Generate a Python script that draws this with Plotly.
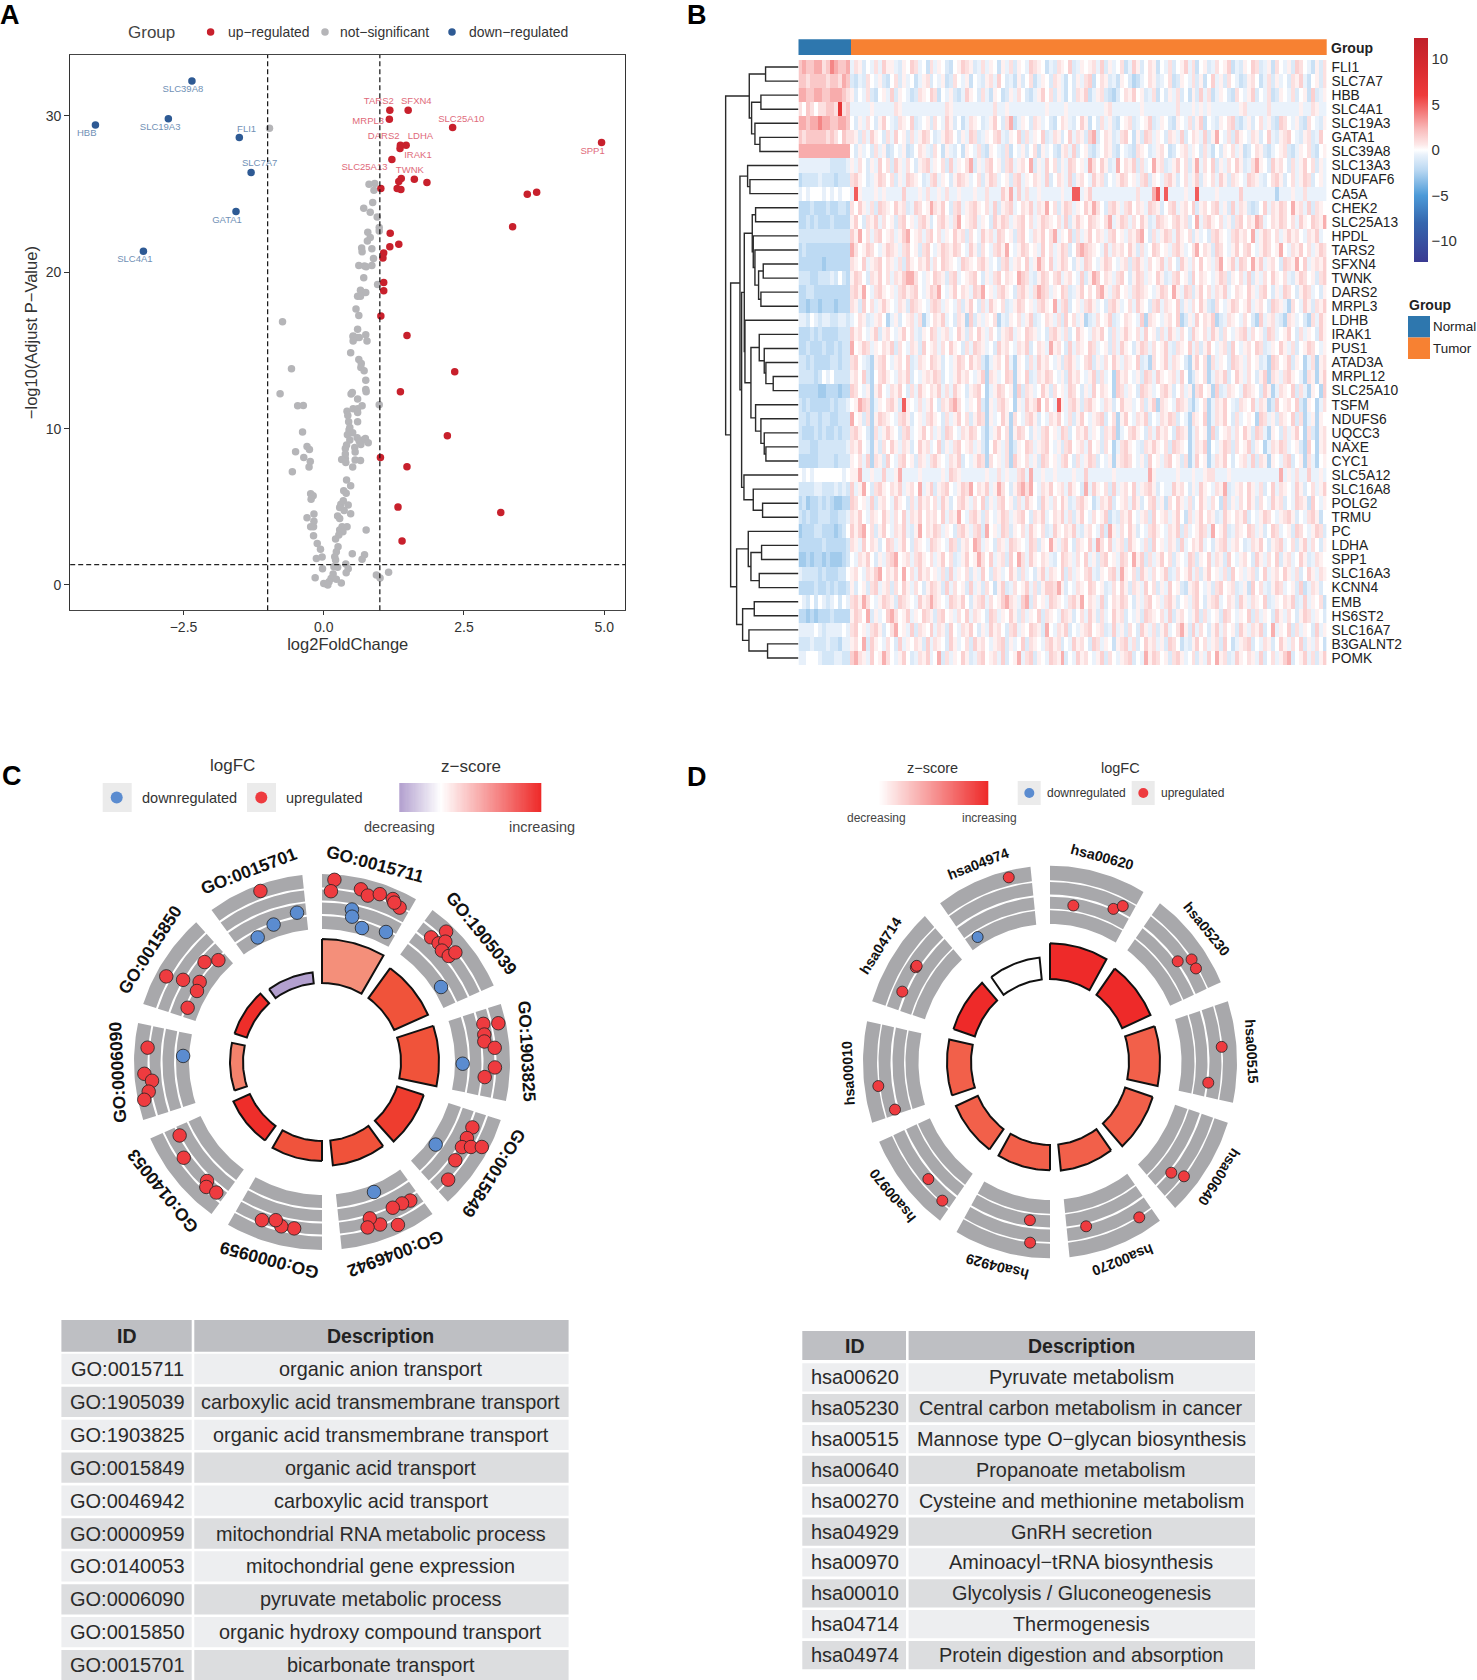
import numpy as np
import plotly.graph_objects as go

W, H = 1477, 1680
FONT = "Liberation Sans"

# ---------- Panel A values ----------
up_x = [1.178,1.505,1.17,2.298,4.953,1.367,1.469,1.36,1.215,1.382,1.338,1.615,1.84,1.018,1.309,1.375,3.796,3.629,3.367,1.185,1.338,1.178,1.069,1.055,1.069,1.069,1.018,1.484,2.335,1.367,2.204,1.011,1.484,1.324,3.156,1.396]
up_y = [30.37,30.37,29.79,29.26,28.3,28.13,28.13,27.92,27.21,26.0,25.81,25.96,25.74,25.36,25.36,25.29,25.12,25.0,22.91,22.5,21.8,21.63,21.24,20.92,19.35,18.82,17.2,15.96,13.64,12.36,9.54,8.16,7.56,4.98,4.64,2.81]
down_x = [-2.35,-4.07,-2.77,-1.505,-1.295,-1.564,-3.215]
down_y = [32.24,29.43,29.83,28.62,26.38,23.89,21.35]
ns_x = [-.967,-.735,.909,.807,.895,.873,.713,.829,.953,.989,.989,.785,.829,.778,.676,.684,.858,.887,.625,.727,.756,.858,.713,.96,.655,.749,.604,.655,.575,.625,.604,.524,.596,.749,
        .524,.633,.524,.771,.48,.625,.669,.662,.72,.749,-.575,-.778,.487,.509,.749,.756,.604,.684,-.465,-.364,.989,.415,.429,.524,.604,.604,.444,.604,.465,-.378,.451,.516,.422,.465,.596,.742,.633,.705,.662,.793,.407,.385,.553,-.298,-.255,-.502,.56,.385,-.356,-.24,.385,.32,.56,.655,.393,.516,-.262,-.56,.407,.48,.356,.4,-.233,-.189,-.225,.349,.436,.305,.284,.364,.48,-.175,.247,.284,-.298,-.175,-.233,-.182,.327,.415,.284,.342,.756,.269,.211,-.182,-.116,-.058,.255,.225,.509,.727,.684,-.131,-.029,.196,.211,.393,.182,-.022,.247,.436,.4,.167,1.156,.938,1.004,-.153,.131,.225,.095,.313,0,.051,.073]
ns_y = [29.22,16.83,25.68,25.64,25.25,24.46,24.1,23.84,23.53,22.86,22.65,22.57,22.23,22.01,21.56,21.31,21.5,20.88,20.43,20.41,20.35,20.43,19.65,19.22,18.86,18.71,18.47,18.47,17.66,17.24,16.36,15.92,15.83,16.0,
        15.87,15.83,15.6,15.6,14.85,14.42,14.17,13.91,13.7,13.1,13.83,12.23,12.21,12.31,12.51,12.36,11.89,11.46,11.46,11.48,11.53,11.12,10.84,11.27,11.27,11.04,10.44,10.44,10.08,9.78,9.91,9.74,9.61,9.27,9.42,9.37,9.2,9.27,8.99,9.1,8.95,8.73,8.8,8.86,8.67,8.52,8.5,8.37,8.16,7.9,8.09,8.03,7.99,7.97,7.84,7.54,7.54,7.24,6.71,6.35,6.03,5.86,5.84,5.71,5.49,5.39,5.11,5.17,4.96,4.77,4.56,4.54,4.41,4.26,4.3,4.07,3.73,3.73,3.73,3.73,3.51,3.41,3.51,3.19,2.94,3.15,2.66,2.28,2.45,2.13,2.0,1.94,1.64,1.7,1.79,1.81,1.59,1.34,1.17,1.04,1.13,1.04,.78,.7,.81,.63,.44,.46,.42,.36,.21,.12,.1,.06,0]
lab_down = ["SLC39A8","HBB","SLC19A3","FLI1","SLC7A7","GATA1","SLC4A1"]
lab_down_x = [-2.51,-4.225,-2.916,-1.375,-1.142,-1.724,-3.367]
lab_down_y = [31.69,28.87,29.26,29.15,26.94,23.33,20.78]
lab_up = ["TARS2","SFXN4","MRPL3","SLC25A10","DARS2","LDHA","IRAK1","SPP1","SLC25A13","TWNK"]
lab_up_x = [.982,1.651,.793,2.451,1.069,1.724,1.68,4.793,.727,1.535]
lab_up_y = [30.9,30.9,29.62,29.79,28.66,28.66,27.49,27.75,26.68,26.53]

# ---------- Panel B values ----------
genes = ["FLI1","SLC7A7","HBB","SLC4A1","SLC19A3","GATA1","SLC39A8","SLC13A3","NDUFAF6","CA5A","CHEK2","SLC25A13","HPDL","TARS2","SFXN4","TWNK","DARS2","MRPL3","LDHB","IRAK1","PUS1","ATAD3A","MRPL12","SLC25A10","TSFM","NDUFS6","UQCC3","NAXE","CYC1","SLC5A12","SLC16A8","POLG2","TRMU","PC","LDHA","SPP1","SLC16A3","KCNN4","EMB","HS6ST2","SLC16A7","B3GALNT2","POMK"]
normal_levels = dict(b=-2.8,c=-2.1,d=-1.3,e=-.6,f=0,g=.9,h=1.8,i=2.7,j=3.8,k=7)
tumor_levels = dict(b=-2.3,c=-1.6,d=-1,e=-.5,f=0,g=.4,h=.9,i=1.5,j=2.6,k=5)
normal_rows = ["hihhiighjihhi","hhghhhhghhgih","iihhiihhiiihg","gfhgfgghhgkgh","iihiijiihhiih","hghhhhhghgfhg","iiiiiiiiiiiii","eeeeeeeedddde","cddddedddcddd","efefffefefeff","cccdcccdccddc","ccdcdcccdcccc","ddddddddddddd","cdccccccccccc","ccccccbcccccc","dddccdddedfdc","ccddccccccccc","ccbccbcccbccc","eedfedeeddeed","cccdcdccccddd","ccdcccdccdcdd","ddcdccccddcdd","ddddcdfefdddd","cccccbbcccbcc","dcdcccccdcdde","ddcddcddccddd","dcccdcdccdcdd","dddccddddddde","cccccddddcddd","fefefffffffef","ddddeedddeded","cdbccdcdcbbcc","dcdccdddccdde","bcccddcccbcdf","ccccccdcccccd","bbcbccbcbbbcd","eddddcdcccddf","ccccdccdcdccd","fedfdfedefdfe","ccbcbcccdcccc","eeeefedeeeefe","dddedddeddcee","eefffedddeedd"]
tumor_rows = [
"ehgdfeheig gedgfihefc hegfdcfgih gdehegfcge hdgfeihgfc edhgfidegf gheidgefhc eigdfhgcfe hdfgiehcfg dehfgicedg fihdegchfe gdihfecgdh",
"dcedhfegdc fhdgefcegh dfegcdhfeg cfedgheifd ecgdfhcegf dhgecfdgeh icfhgdecgf dbcefhgdef hcdgfehdgc fiegdhfecd ghfcehdgef dhgiecfgdh",
"gdfehdcfge idgfecdhgf ihcfegdcei gfdhecgfcd gehfdcegif hdgecfdhgi ceghdcbdfh gifgdehcfd gehdfcgdie hcegfdchfe gidfehcdgf ehdfgcideg",
"eeeeegeeee ehgeeeeeee eeeehgeeee eeeeeeheeg eeeeeeeeeg eeeegeeeee eeeegheeee eeegeeeeee eeheeegege geeeeeeegh eeeeeheeee eeegeehgee",
"fdgehfdgif edhgfidefg dhfeigdfce hgfdegifdh jcegfdhgef dcfhgedfig cfdhegdcfg hdefgidegf dcgfehdgic fedgfhidce gdfhegdcih fegdchfedg",
"hgdheigfdh eifgdhegih fdegihfdge ihdegfhied gfidhegfid ehgdfiehgd ijdfhgdehi fcgdihegfd hgeidfhgei dgjfehdigf ehgdfiedgh ifedghdeif",
"fdgefdhegc dfegcdfhge dhfcgedfcg fehdcgfedh cfegdfhcge fdcgheidfg dcefhgdcfe dchgfdeghf cdfghegfdh ecfdgfhegc dfhgdcefgh dcegfhdcfg",
"gehfdgeifh digehfdghi egfhdiegfh jdgehifgdh ieghfjdgei fhdgeihfge jhfigdejfh gidhefjghd egifhdgjeh fidgehfigd ehjgfdighf dhegifhdge",
"higfdegihf hdgeihgfde hiegfdgihg efhdgihefg dhiegfhgei dfhgeidghf eighdfegih fgehidgfeh igdfhegidg fheigdhgfe ihgedfhigd fhegihdfge",
"ekgeeegege eeeieeegeh eegeheegee egeeheeeig jeieheegee eeegeekkeg ieeeeeeeee eeheeejkek eeeegeekee eegeeeeeie eeeeeeebee egeeheeeee",
"hfigehdihg fighdeihfg jhgifdhieg higfheidgh iefhgiehgj fhdgihegfi gjhfdhigeh ifhgeihgdf hieghfidgh fhiegdiehg dcdfiehgih fjgheidhgf",
"gifdhgiehf gdhifgehig dfhigehjfg hiegfdigih eghifhegih gfheidgigf ihgfhjegih ehfigdeihg fhighdfjeh igfhegdhif hgjiefhgih fheigfihgj",
"igjfhehifg hegijfgheh ifhegfighd hfeigheihf gdhifehgif hjegfidheg ifhgehifge hgijfdhegi heigfhdgef dhigfehigh fjegihfheg ighfehgief",
"jhfgihfegi hgehifgdhi fegihgihfe igdhfehigj fegihfgeif hegihdfiji hgfeiehghf igdhefihfg ehigefhjfh gdihfegifh ifegihfgjf ehgifhegih",
"hgfieghifh gehdigfhgi ehfihgfeih gfhigefdhi eghfiegjhf iegihfdgei hfegihfegh dhigehfgie hfdigehfif gehjfgieih fjgieghfdi hgjfieghgi",
"gihfdhgifh ehgijjhfeg fihgdhiefg hifdgehifh gfjihedgih fhieghfeid gjifhgehif dgihegfigd ehifgdifhg fegihdgfhe idgehfigfh edgihfgdhi",
"higjfehigf gehighifeg ihjfegifhg eihjfgehig fdhigehjih egfihdegif hfijgehifg ehihgfegih fjgeihdgif hehgiefhgf igehifdgei hfdgihefdg",
"hgdifhegig fehgdihgfe hihegfehdg ifdheigfhd egihfgehig fjehidfgeh igefdhigef heigfdhieh gfidgehfig dchfegihfg ieghfdihge bhfeigdhgi",
"efhgdeghfb egdfghehbe fhgiefdhgb idgegfhbed gfhegidefh gehdifhegb dehfgidefh gfeibhgfeg hfibdgeifh gibdehgfeh fdbieghedb hgefdbheig",
"ighfegidgh fegifhedgf iheghefigd hfigehfdgh iegfihgefd higehdfigf ehgifdhegi gfheifgdhe igehfdigfh eigdhfeghi ehfgdihefg ifdhegfdig",
"jfgihegfhg idhfehgdif ghehfigfdh eihgefdigh fehgidfhge jghfdiehgf ihefgdheig fdgihehfgi edhgfiehdg ifeghdifeg hfihdegfig ehdfgihfeg",
"hifedbghif eghfidehgf ihgdfegihf ighdbeghfi ebgfdheigh fegdhigefh idgehfigeh gfidebhfgi ehgfdbgifh bhegfdihge hfgdebihfg idgfbehbgh",
"ghfidbfhig fehgidfegh gihdfegigh fegibhgefi hbgfidehgi hfegdighfe gidhefbigh fegdiheigf gheifbdgfh behgidfige hfdgibhgeh igfebhgbgi",
"ihfegbgife hgifdheigf hgieheigfd ghifbegihf gbidhgefig dhfgeihfdg eifhgfbihe gfdihgefhi gdfhegbhif gbidehgfei hgfdigbehg fidhebgfbi",
"fgjihbegfh igdkgfeheg ifdhgijhfe gfidbgehig fbgeighjfi fekgehigdh igfehgdfig gefhdgibhg feihgdbefh behgifedhg fiehgbdifg hfidbgfbeh",
"jfgdhbgihg fehigdfgeh igfdhegifh dgihbgefig bhfehigdfe hgifehdgif eghidfhbgi fehgidfehg ihdfebhgfi behgifdhef gfbihegdhg fidhbegbgf",
"higfdbhegi gfdhiefgif hegdihfehg ihfdbegifh bgihfdgehi fgeihdfhgi egfdhgibef higfdheigh fdihgbehfg bidfghehfi gdihebgfdh egifbhdbgh",
"hgifebgdhf igehgdfigh efidgehifg hegdbfigeh bdgfiheghi fegdhifghe ifgdhfbehi gfedhgigfh dihgfbehgi bfegihdhfg idgfbehgih efgdbifbgh",
"gfheibhgdi fehifgdhge higfehgidf egihbhfgeh bigfhegdih fgehifdheg ihdfegbghi hfegdifgeh ifgdhbeifg behgifdfgh eidhgbgfeh idfgbhebfg",
"ggjeegeeie egjeeeegee eeegeihgee eeeegeeheg eehiejeege egeeeegeei eeeeeegeee eeeeejgeee eegeeegeeg hheeegeeee eeeeeeeeje geheeieege",
"iegjfdhigf hgieghfjeg idghifegih jfhgiegjhf dgijhjfehg ifgheigfdj eigfhdiegh fieghigdfe eighfdgeig fehgjdeghf igehdfiehg feigdfhegi",
"ihfgeidghf eigfdheigh fheigdfhig ehfidgehif gdheigfdig ehfigdehig fcehgidfgh eigdfhiegc hfigehdfig ehfcidgehf igdhfeighd feihgcifeg",
"hgifehgfig ehfiehgifh ghfiehgjfe higdhfegih eghifdhgie fhgiehdgif ehfgicedhg ifeghdifgh egifchegif hgdeigfhgi dfegihfegh igdfehigcf",
"igijfhdgif ehgiedgjfh gihegfdhig ehidjfgeih dgfheigfhd eigfhgiedg hfeidjgehf igdfehigfe hgidhefgih ejfgidehgf ihegdfihef gdihfegihd",
"hgeifhgdfi hegifdhgfe ihgfeihdgh fjiegfdhge ihgfeihdgf jgehifdhgf iejhfieghd igfehdifge hgdiefhgie fdghieghfd ehgifdghie fhdgiehfdg",
"fehgifdgeh ijfghehigf hegifhdegi fgjhfieghd ifjheigfhg edfihgehfi egdhifgeih fjgidhegif hdgfeihdgf iehgdifegh fdigehfidg hefigdehgf",
"ghfehgijfh gifjfheigh fgehdiegfh dgeifdhgef igdhefdgie hgfidhegfh iedgfhiejg fhdigehfgi dehfgiehdg ifgehdifge ghdfieghfi gehdfigehg",
"gdfgdhiegh dhfigehfdg ihgdiehfgd iegdhfcgid ehfgiehdgi ihjgdfehgf ihfgdehfig dhgeifhdge ifgdcghife gdhifghdeg cifhedgihe fgdicehgdf",
"higjhfegih gdihgfeigh jhgfeihgif dghiehfgij hgeijdhfge ihgfehigjf hgeidfhgih fdgehifgeh igdfgehifd ghiefhgdig ehgfidegfh gideiegfhc",
"gihfjdgefi jhfgiegfih gdhifgehfi ehgfdihegf igdhegfidh gfeihgdfhe igdhefighd fegdihgfhe idghfegidh efgdihfegf idhegfdige hfdgihegfd",
"hifgehigdf hjfgeidhgf iehgdifehg ifdgeighfd hiegfihgdj fehgidfegh ifghdeiegd hfdigehdgi efhjgdiehf dgiehfgdig ehgidfjegf idhegfdieg",
"ghfjdigfeh fdiegfhgdi ehgfdigefh dighfeghid gefidhgfeh ighdfeighf dihegfcghi ehdfighegd ihfcedgifh eghdifcegh idfehgdfig ehfidgehfc",
"ijhgeifgjh fegifdehgi efjdhegfig dehifgheid fgjehidgfe ihgjdfeigh fegidhfegh idfejgihfg dhigefhdge ifjghdeigf hgeidfhegi jdfgiehdgi",
]
# dendrogram: (height, left, right); leaves are row numbers
dendro = (17,
    (88, (137,0,1), (95, (123,2,3), (105,4,(120,5,6)))),
    (32,
        (60,
            (83,7,(90,8,9)),
            (65,
                (73,
                    (97,(107,10,11),(100,12,(105,13,(116,(130,14,15),(123,16,17))))),
                    (75,18,(93,(118,19,(133,20,(138,21,(160,22,23)))),(107,24,(123,25,(133,26,(138,27,28))))))),
                (72,29,(100,30,(128,31,32))))),
        (50,
            (85,33,(93,(125,34,35),(118,36,37))),
            (68,(103,38,39),(87,40,(143,41,42))))))
cb_ticks = [-10,-5,0,5,10]

# ---------- Panel C values ----------
c_ids = ["GO:0015711","GO:1905039","GO:1903825","GO:0015849","GO:0046942","GO:0000959","GO:0140053","GO:0006090","GO:0015850","GO:0015701"]
c_desc = ["organic anion transport","carboxylic acid transmembrane transport","organic acid transmembrane transport","organic acid transport","carboxylic acid transport","mitochondrial RNA metabolic process","mitochondrial gene expression","pyruvate metabolic process","organic hydroxy compound transport","bicarbonate transport"]
c_bar = [123,116,117,107,104,99,97,92,92,90]
c_bar_col = ["#F48F7A","#F0533A","#F0533A","#EE3D2F","#F0523A","#F0533C","#EE2E2A","#F4826C","#EE2E2A","#B3A0CF"]
c_up_t = [3.9,3,12.7,15.4,19,23.5,26.7,24.4,43.6,41.2,44.5,45.7,47.1,50.1,50.6,76.7,77.6,80.4,82.8,85.3,91.8,95.3,113.5,117.7,121.3,119.7,118,126.4,133,147.5,150.5,154.1,160.3,163,164.6,155,189.5,193.9,196.3,200.8,242.7,235.3,224,222.8,219,274.7,266.2,263.7,260.3,258,298.8,300.6,310.4,314.5,303.2,299.6,292,340.2]
c_up_r = [182.6,171,177,172.6,177.5,177.7,172.8,175,180,165.6,166.4,172.3,163.7,165.2,172.6,165.8,180.5,164.6,163.6,173.3,173,163.4,164,163.7,163.8,171.5,181,165.6,172.5,164.3,162.5,162,172.6,163.5,171.6,179.7,168.7,169.3,164.8,169.2,160.2,168.2,165.4,170.3,168,175,178,171,175.8,181.7,177.7,161.4,154.2,145.3,146.2,143.8,144.9,181.8]
c_dn_t = [11.1,11.7,16.6,26.2,57.8,90.7,126,158.2,272.5,350.5,340.6,332.7]
c_dn_r = [155.4,148.4,139.8,144.9,140.7,140.7,140.5,140,139,151.4,145.7,140.2]

# ---------- Panel D values ----------
d_ids = ["hsa00620","hsa05230","hsa00515","hsa00640","hsa00270","hsa04929","hsa00970","hsa00010","hsa04714","hsa04974"]
d_desc = ["Pyruvate metabolism","Central carbon metabolism in cancer","Mannose type O\u2212glycan biosynthesis","Propanoate metabolism","Cysteine and methionine metabolism","GnRH secretion","Aminoacyl\u2212tRNA biosynthesis","Glycolysis / Gluconeogenesis","Thermogenesis","Protein digestion and absorption"]
d_bar = [113,110,110,108,104,103,103,103,101.5,100]
d_bar_col = ["#EE2A29","#EE2A29","#F2604A","#F2604A","#F2604A","#F2604A","#F2604A","#F2604A","#EE2A29","#FFFFFF"]
d_up_t = [8.9,23.5,26.1,53.1,55.4,58.6,85.2,97.1,131,129.1,148.9,167,187.6,186.6,227.5,219.2,262.4,253.7,303.9,304.5,294.4,346.8]
d_up_r = [150.8,159,165.4,159.7,172,171,172.3,159.5,160.7,172.6,172.8,160.6,152,173.2,165,170.4,173.2,161.5,161.7,161.7,162.2,180.6]
d_dn_t = [328.7]
d_dn_r = [139.3]

UP, DN = "#EE3B3F", "#5B8CD0"
TXT = "#333333"

fig = go.Figure()

def dx(a, b): return [a / W, b / W]
def dy(top, bot): return [1 - bot / H, 1 - top / H]
HID = dict(visible=False, fixedrange=True)

layout = dict(
    width=W, height=H, margin=dict(l=0, r=0, t=0, b=0), autosize=False,
    paper_bgcolor="white", plot_bgcolor="rgba(0,0,0,0)", showlegend=False,
    font=dict(family=FONT, color=TXT),
)
# overlay page axes (decoration coordinates)
layout["xaxis6"] = dict(domain=[0, 1], range=[0, W], anchor="y6", **HID)
layout["yaxis6"] = dict(domain=[0, 1], range=[H, 0], anchor="x6", **HID)

anns, shapes = [], []
def txt(x, y, s, size, color=TXT, bold=False, anchor="center", angle=0, xref="x6", yref="y6"):
    anns.append(dict(x=x, y=y, xref=xref, yref=yref, text=f"<b>{s}</b>" if bold else s, showarrow=False,
                     xanchor=anchor, yanchor="middle", textangle=angle,
                     font=dict(size=size, color=color, family=FONT)))
def rect(x0, y0, x1, y1, color):
    shapes.append(dict(type="rect", xref="x6", yref="y6", x0=x0, y0=y0, x1=x1, y1=y1,
                       fillcolor=color, line=dict(width=0), layer="below"))

for letter, x, y in [("A", 10, 15), ("B", 697, 15), ("C", 12, 776), ("D", 697, 777)]:
    txt(x, y, letter, 27, "#000000", True)

# ---------- A ----------
layout["xaxis"] = dict(domain=dx(70.2, 625.3), range=[-4.52, 5.376], anchor="y", tickvals=[-2.5, 0, 2.5, 5], tickformat=".1f",
                       showgrid=False, zeroline=False, showline=True, mirror=True, linecolor="#444444", linewidth=1.3,
                       ticks="outside", ticklen=4, tickcolor="#333333", tickfont=dict(size=14, color=TXT, family=FONT),
                       title=dict(text="log2FoldChange", font=dict(size=16.5, color=TXT, family=FONT), standoff=3), fixedrange=True)
layout["yaxis"] = dict(domain=dy(55, 610.3), range=[-1.62, 33.9], anchor="x", tickvals=[0, 10, 20, 30],
                       showgrid=False, zeroline=False, showline=True, mirror=True, linecolor="#333333", linewidth=1.3,
                       ticks="outside", ticklen=5, tickcolor="#333333", tickfont=dict(size=14, color=TXT, family=FONT),
                       title=dict(text="\u2212log10(Adjust P\u2212Value)", font=dict(size=16.5, color=TXT, family=FONT), standoff=3), fixedrange=True)
fc_cut, p_cut = 1, 1.3
for v in (-fc_cut, fc_cut):
    shapes.append(dict(type="line", xref="x", yref="y domain", x0=v, x1=v, y0=0, y1=1, line=dict(color="#111111", width=1.2, dash="5px,3px")))
shapes.append(dict(type="line", xref="x domain", yref="y", x0=0, x1=1, y0=p_cut, y1=p_cut, line=dict(color="#222222", width=1.2, dash="5px,3px")))
RED, BLUE, GREY = "#C8202C", "#2E5A94", "#B5B5B8"
for xs, ys, c in [(ns_x, ns_y, GREY), (up_x, up_y, RED), (down_x, down_y, BLUE)]:
    fig.add_trace(go.Scatter(x=xs, y=ys, mode="markers", marker=dict(size=7.5, color=c, line=dict(width=0)), hoverinfo="skip"))
fig.add_trace(go.Scatter(x=lab_down_x, y=lab_down_y, text=lab_down, mode="text", textfont=dict(size=9.5, color="#7090B5", family=FONT), hoverinfo="skip"))
fig.add_trace(go.Scatter(x=lab_up_x, y=lab_up_y, text=lab_up, mode="text", textfont=dict(size=9.5, color="#E06A7A", family=FONT), hoverinfo="skip"))
txt(151, 32, "Group", 17, "#444444")
fig.add_trace(go.Scatter(x=[210.6, 325, 452], y=[32, 32, 32], xaxis="x6", yaxis="y6", mode="markers",
                         marker=dict(size=7.5, color=[RED, GREY, BLUE]), hoverinfo="skip"))
txt(226, 32, "up\u2212regulated", 13.9, anchor="left")
txt(338, 32, "not\u2212significant", 13.9, anchor="left")
txt(467, 32, "down\u2212regulated", 13.9, anchor="left")

# ---------- B ----------
N_N, N_T = len(normal_rows[0]), 120
z = []
for n, t in zip(normal_rows, tumor_rows):
    t = (t.replace(" ", "") + "f" * N_T)[:N_T]
    z.append([normal_levels[ch] for ch in n] + [tumor_levels[ch] for ch in t])
n_cols = len(z[0])
zlim = 12.3
stops = [(-12.3, "#3A3A92"), (-8, "#3566AE"), (-5, "#4C9AD8"), (-2.2, "#BAD8F2"), (-.5, "#EAF2FB"), (0, "#FFFFFF"),
         (.6, "#FDE8E8"), (2.2, "#F9BDBD"), (6, "#EE3B3B"), (9, "#D92B30"), (12.3, "#C0202A")]
cs = [[(v + zlim) / (2 * zlim), c] for v, c in stops]
fig.add_trace(go.Heatmap(z=z, x=list(range(n_cols)), y=list(range(len(genes))), xaxis="x3", yaxis="y3", zmin=-zlim, zmax=zlim,
                         colorscale=cs, hoverinfo="skip", xgap=0, ygap=0,
                         colorbar=dict(x=1413.6 / W, xanchor="left", y=1 - 38 / H, yanchor="top", lenmode="pixels", len=223.7,
                                       thicknessmode="pixels", thickness=13.5, xpad=0, ypad=0, outlinewidth=0, ticks="",
                                       tickvals=cb_ticks, tickfont=dict(size=15, color=TXT, family=FONT))))
layout["xaxis3"] = dict(domain=dx(798.5, 1326.7), range=[-.5, n_cols - .5], anchor="y3", **HID)
layout["yaxis3"] = dict(domain=dy(60, 665), range=[len(genes) - .5, -.5], anchor="x3", side="right", tickvals=list(range(len(genes))), ticktext=genes,
                        showgrid=False, zeroline=False, showline=False, ticks="outside", ticklen=1, tickcolor="rgba(0,0,0,0)",
                        tickfont=dict(size=13.8, color="#222222", family=FONT), fixedrange=True)
rect(798.5, 39.3, 851, 55, "#2E77AE")
rect(851, 39.3, 1326.7, 55, "#F78132")
txt(1329, 47.5, "Group", 14, "#222222", True, "left")
txt(1407, 305, "Group", 14, "#222222", True, "left")
rect(1408, 316, 1430, 337.5, "#2E77AE")
rect(1408, 337.5, 1430, 359, "#F78132")
txt(1431, 326.5, "Normal", 13.4, "#222222", anchor="left")
txt(1431, 348, "Tumor", 13.4, "#222222", anchor="left")

dx_seg, dy_seg = [], []
def walk(node):
    if isinstance(node, int):
        return 236.0, node + .5
    h, a, b = node
    xa, ya = walk(a)
    xb, yb = walk(b)
    dx_seg.extend([xa, h, h, xb, None])
    dy_seg.extend([ya, ya, yb, yb, None])
    return h, (ya + yb) / 2
rx, ry = walk(dendro)
fig.add_trace(go.Scatter(x=dx_seg, y=dy_seg, xaxis="x2", yaxis="y2", mode="lines", line=dict(color="#2A2A2A", width=1.4), hoverinfo="skip"))
layout["xaxis2"] = dict(domain=dx(720, 798.5), range=[0, 236], anchor="y2", **HID)
layout["yaxis2"] = dict(domain=dy(60, 665), range=[len(genes), 0], anchor="x2", **HID)

# ---------- C / D circles ----------
def sector(t0, t1, r0, r1):
    t = np.radians(np.linspace(t0, t1, 28))
    xs = list(r1 * np.sin(t)) + list(r0 * np.sin(t[::-1]))
    ys = list(r1 * np.cos(t)) + list(r0 * np.cos(t[::-1]))
    return xs + [xs[0]], ys + [ys[0]]

def circle(axn, ids, bars, colors, up_t, up_r, dn_t, dn_r, bands, r_in, r_lab, msize, fs):
    X, Y = f"x{axn}", f"y{axn}"
    bx, by = [], []
    for i in range(len(ids)):
        for r0, r1 in bands:
            a, b = sector(36 * i, 36 * i + 30, r0, r1)
            bx += a + [None]; by += b + [None]
    fig.add_trace(go.Scatter(x=bx, y=by, xaxis=X, yaxis=Y, mode="lines", fill="toself", fillcolor="#A8A8AB", line=dict(width=0), hoverinfo="skip"))
    for i in range(len(ids)):
        a, b = sector(36 * i, 36 * i + 30, r_in, bars[i])
        fig.add_trace(go.Scatter(x=a, y=b, xaxis=X, yaxis=Y, mode="lines", fill="toself", fillcolor=colors[i], line=dict(color="#111111", width=2), hoverinfo="skip"))
    for ts, rs, c in [(up_t, up_r, UP), (dn_t, dn_r, DN)]:
        t = np.radians(ts); r = np.array(rs)
        fig.add_trace(go.Scatter(x=r * np.sin(t), y=r * np.cos(t), xaxis=X, yaxis=Y, mode="markers",
                                 marker=dict(size=msize, color=c, line=dict(color="#222222", width=.8)), hoverinfo="skip"))
    for i, s in enumerate(ids):
        th = 15 + 36 * i
        txt(r_lab * np.sin(np.radians(th)), r_lab * np.cos(np.radians(th)), s, fs, "#111111", True,
            angle=(th + 180) % 360 - 180, xref=X, yref=Y)

R_BOX = 220
layout["xaxis4"] = dict(domain=dx(322 - R_BOX, 322 + R_BOX), range=[-R_BOX, R_BOX], anchor="y4", **HID)
layout["yaxis4"] = dict(domain=dy(1062 - R_BOX, 1062 + R_BOX), range=[-R_BOX, R_BOX], anchor="x4", **HID)
layout["xaxis5"] = dict(domain=dx(1050 - R_BOX, 1050 + R_BOX), range=[-R_BOX, R_BOX], anchor="y5", **HID)
layout["yaxis5"] = dict(domain=dy(1062 - R_BOX * 1.05, 1062 + R_BOX * 1.05), range=[-R_BOX, R_BOX], anchor="x5", **HID)
circle(4, c_ids, c_bar, c_bar_col, c_up_t, c_up_r, c_dn_t, c_dn_r, [(133, 146), (148, 159.5), (161.5, 172.5), (174.5, 188)], 79, 205, 13.5, 17.5)
circle(5, d_ids, d_bar, d_bar_col, d_up_t, d_up_r, d_dn_t, d_dn_r, [(131.5, 144.5), (146, 157.5), (159.5, 171.5), (173, 187)], 79, 202, 11, 14.3)

# legends C / D
txt(232.7, 765.7, "logFC", 17)
rect(102.7, 783, 131.7, 812, "#EBEBEB"); rect(247, 783, 276, 812, "#EBEBEB")
txt(189, 797.5, "downregulated", 14.5); txt(324, 797.5, "upregulated", 14.5)
txt(470.7, 766.8, "z\u2212score", 17)
txt(399.3, 826.8, "decreasing", 14.5, "#444444"); txt(541.7, 826.8, "increasing", 14.5, "#444444")
txt(932.3, 767.5, "z\u2212score", 14.5); txt(1120.7, 767.5, "logFC", 14.5)
rect(1017.7, 781, 1040.7, 805, "#EBEBEB"); rect(1131.7, 781, 1154.7, 805, "#EBEBEB")
txt(1086.7, 793, "downregulated", 12); txt(1192.5, 793, "upregulated", 12)
txt(876, 817.5, "decreasing", 12, "#444444"); txt(989, 817.5, "increasing", 12, "#444444")
fig.add_trace(go.Scatter(x=[116.7, 261.3], y=[797.5, 797.5], xaxis="x6", yaxis="y6", mode="markers", marker=dict(size=12, color=[DN, UP]), hoverinfo="skip"))
fig.add_trace(go.Scatter(x=[1029.3, 1143.3], y=[793, 793], xaxis="x6", yaxis="y6", mode="markers", marker=dict(size=10, color=[DN, UP]), hoverinfo="skip"))
ramp = np.linspace(0, 1, 120)
fig.add_trace(go.Heatmap(z=[ramp], x=np.linspace(399.3, 541.7, 121), y=[783, 812], xaxis="x6", yaxis="y6", showscale=False, hoverinfo="skip",
                         colorscale=[[0, "#B3A0CF"], [.29, "#FFFFFF"], [1, "#EE2A29"]]))
fig.add_trace(go.Heatmap(z=[ramp], x=np.linspace(878.3, 988.3, 121), y=[781, 805], xaxis="x6", yaxis="y6", showscale=False, hoverinfo="skip",
                         colorscale=[[0, "#FFFFFF"], [1, "#EE2A29"]]))

# ---------- tables ----------
def table(x0, xs, x1, top, head_bot, c0, step, ids, desc):
    gap = 1.3
    rect(x0, top, xs - gap, head_bot, "#BEBFC3"); rect(xs + gap, top, x1, head_bot, "#BEBFC3")
    txt((x0 + xs) / 2, (top + head_bot) / 2, "ID", 19.5, "#222222", True)
    txt((xs + x1) / 2, (top + head_bot) / 2, "Description", 19.5, "#222222", True)
    for i, (a, b) in enumerate(zip(ids, desc)):
        y = c0 + i * step
        col = "#EDEEF0" if i % 2 == 0 else "#DCDDDF"
        y1 = min(y + step / 2 - gap, H)
        rect(x0, y - step / 2 + gap, xs - gap, y1, col); rect(xs + gap, y - step / 2 + gap, x1, y1, col)
        txt((x0 + xs) / 2, y, a, 20, "#2A2A2A")
        txt((xs + x1) / 2, y, b, 19.85, "#2A2A2A")
table(61.4, 193, 568.6, 1320, 1351.7, 1369, 32.9, c_ids, c_desc)
table(802.3, 907.3, 1255, 1331, 1360, 1377.3, 30.86, d_ids, d_desc)

layout["annotations"] = anns
layout["shapes"] = shapes
fig.update_layout(**layout)
fig.write_html("out.html", config=dict(displayModeBar=False), post_script="document.body.style.margin='0';")
